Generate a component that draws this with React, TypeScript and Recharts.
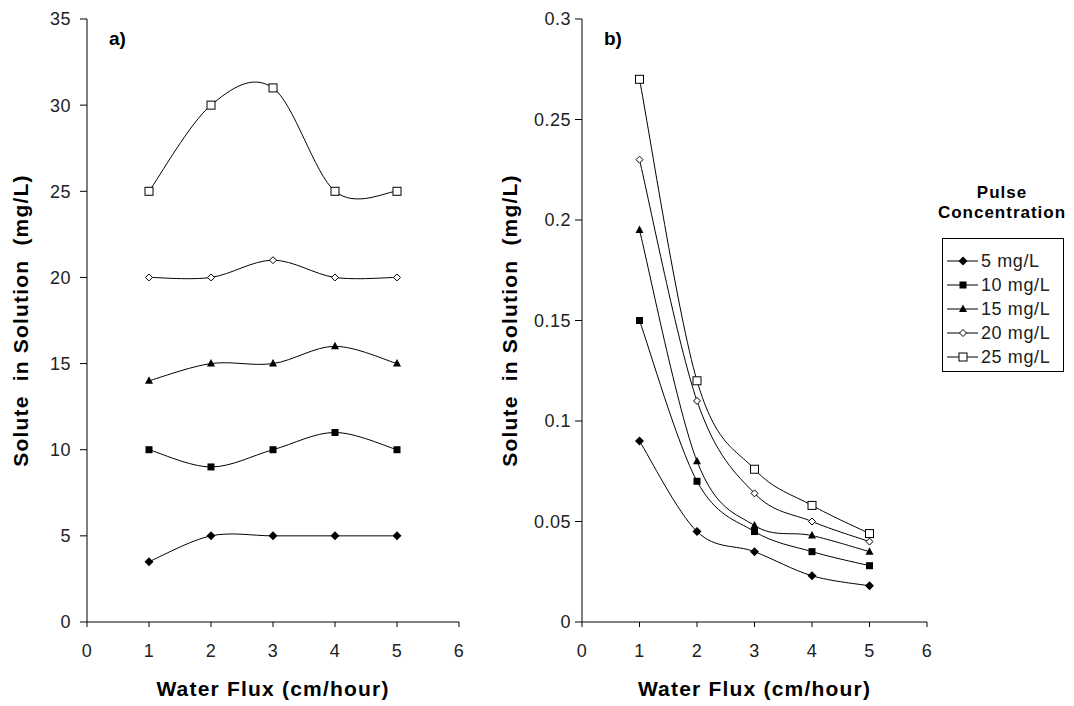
import { LineChart, Line, XAxis, YAxis } from "recharts";

// water flux (cm/hour) shared by both panels
const waterFlux = [1, 2, 3, 4, 5];
const xTicks = [0, 1, 2, 3, 4, 5, 6];
const leftTicks = [0, 5, 10, 15, 20, 25, 30, 35];
const rightTicks = [0, 0.05, 0.1, 0.15, 0.2, 0.25, 0.3];
const pulseLabels = ["5 mg/L", "10 mg/L", "15 mg/L", "20 mg/L", "25 mg/L"];

// panel a)
const leftP5 = [3.5, 5, 5, 5, 5];
const leftP10 = [10, 9, 10, 11, 10];
const leftP15 = [14, 15, 15, 16, 15];
const leftP20 = [20, 20, 21, 20, 20];
const leftP25 = [25, 30, 31, 25, 25];

// panel b)
const rightP5 = [0.09, 0.045, 0.035, 0.023, 0.018];
const rightP10 = [0.15, 0.07, 0.045, 0.035, 0.028];
const rightP15 = [0.195, 0.08, 0.048, 0.043, 0.035];
const rightP20 = [0.23, 0.11, 0.064, 0.05, 0.04];
const rightP25 = [0.27, 0.12, 0.076, 0.058, 0.044];

type MarkerKind = "diamond" | "square" | "triangle" | "openDiamond" | "openSquare";
const markerKinds: MarkerKind[] = ["diamond", "square", "triangle", "openDiamond", "openSquare"];

const toPoints = (vals: number[]) => waterFlux.map((x, i) => ({ x, y: vals[i] }));

// Excel style smoothing (Catmull-Rom, 1/6 tangents)
const excelSmooth = (context: any) => {
  let pts: number[][] = [];
  return {
    areaStart() {},
    areaEnd() {},
    lineStart() {
      pts = [];
    },
    point(x: number, y: number) {
      pts.push([+x, +y]);
    },
    lineEnd() {
      if (!pts.length) return;
      context.moveTo(pts[0][0], pts[0][1]);
      for (let i = 0; i < pts.length - 1; i++) {
        const p0 = pts[Math.max(i - 1, 0)];
        const p1 = pts[i];
        const p2 = pts[i + 1];
        const p3 = pts[Math.min(i + 2, pts.length - 1)];
        context.bezierCurveTo(
          p1[0] + (p2[0] - p0[0]) / 6,
          p1[1] + (p2[1] - p0[1]) / 6,
          p2[0] - (p3[0] - p1[0]) / 6,
          p2[1] - (p3[1] - p1[1]) / 6,
          p2[0],
          p2[1]
        );
      }
    },
  };
};

function Marker({ cx, cy, kind }: { cx: number; cy: number; kind: MarkerKind }) {
  if (cx == null || cy == null) return null;
  switch (kind) {
    case "diamond":
      return <path d={`M${cx},${cy - 4.5}L${cx + 4.5},${cy}L${cx},${cy + 4.5}L${cx - 4.5},${cy}Z`} fill="#000" />;
    case "square":
      return <rect x={cx - 3.5} y={cy - 3.5} width={7} height={7} fill="#000" />;
    case "triangle":
      return <path d={`M${cx},${cy - 4.5}L${cx + 4},${cy + 3}L${cx - 4},${cy + 3}Z`} fill="#000" />;
    case "openDiamond":
      return (
        <path
          d={`M${cx},${cy - 3.5}L${cx + 3.5},${cy}L${cx},${cy + 3.5}L${cx - 3.5},${cy}Z`}
          fill="#fff"
          stroke="#000"
          strokeWidth={1}
        />
      );
    default:
      return <rect x={cx - 4} y={cy - 4} width={8} height={8} fill="#fff" stroke="#000" strokeWidth={1} />;
  }
}

const FONT = "Liberation Sans, Arial, sans-serif";
const tickStyle = { fontSize: 18, fill: "#222", fontFamily: FONT, letterSpacing: 0.5 };
const titleStyle = {
  fontSize: 21,
  fontWeight: "bold",
  fill: "#000",
  fontFamily: FONT,
  letterSpacing: 1.2,
};

interface PanelProps {
  series: number[][];
  yTicks: number[];
  yMax: number;
  width: number;
  yAxisWidth: number;
  titleOffset: number;
  tickMargin: number;
  tag: string;
}

function Panel({ series, yTicks, yMax, width, yAxisWidth, titleOffset, tickMargin, tag }: PanelProps) {
  return (
    <LineChart width={width} height={706} margin={{ top: 19, right: 8, left: 0, bottom: 0 }}>
      <XAxis
        dataKey="x"
        type="number"
        domain={[0, 6]}
        ticks={xTicks}
        height={84}
        tickSize={5}
        tickMargin={17}
        tick={tickStyle}
        stroke="#000"
        tickLine={{ stroke: "#000" }}
        label={{
          value: "Water Flux (cm/hour)",
          position: "insideBottom",
          offset: 10,
          style: titleStyle,
        }}
      />
      <XAxis xAxisId="top" orientation="top" type="number" domain={[0, 6]} height={0} tick={false} tickLine={false} stroke="#888" />
      <YAxis
        type="number"
        domain={[0, yMax]}
        ticks={yTicks}
        width={yAxisWidth}
        tickSize={7}
        tickMargin={tickMargin}
        tick={tickStyle}
        stroke="#000"
        tickLine={{ stroke: "#000" }}
        label={{
          value: "Solute\u00a0 in Solution\u00a0 (mg/L)",
          angle: -90,
          position: "insideLeft",
          offset: titleOffset,
          style: { ...titleStyle, textAnchor: "middle" },
        }}
      />
      <YAxis yAxisId="right" orientation="right" type="number" domain={[0, yMax]} width={0} tick={false} tickLine={false} stroke="#888" />
      {series.map((vals, i) => (
        <Line
          key={pulseLabels[i]}
          name={pulseLabels[i]}
          data={toPoints(vals)}
          dataKey="y"
          type={excelSmooth as any}
          stroke="#000"
          strokeWidth={1}
          isAnimationActive={false}
          dot={(p: any) => <Marker key={`${i}-${p.index}`} cx={p.cx} cy={p.cy} kind={markerKinds[i]} />}
          activeDot={false}
        />
      ))}
      <text x={yAxisWidth + 22} y={45} fontSize={19} fontWeight="bold" fontFamily={FONT}>
        {tag}
      </text>
    </LineChart>
  );
}

function LegendBox() {
  return (
    <div style={{ position: "absolute", left: 930, top: 183, width: 144, fontFamily: FONT }}>
      <div style={{ textAlign: "center", fontWeight: "bold", fontSize: 17, lineHeight: "20px", letterSpacing: 1 }}>
        Pulse
        <br />
        Concentration
      </div>
      <div style={{ marginTop: 15, marginLeft: 12, width: 120, border: "1px solid #000", padding: "10px 0 2px 0" }}>
        {pulseLabels.map((lbl, i) => (
          <div key={lbl} style={{ display: "flex", alignItems: "center", height: 24 }}>
            <svg width={38} height={24}>
              <line x1={4} y1={12} x2={35} y2={12} stroke="#000" />
              <Marker cx={20} cy={12} kind={markerKinds[i]} />
            </svg>
            <span style={{ fontSize: 18, color: "#222", letterSpacing: 0.6 }}>{lbl}</span>
          </div>
        ))}
      </div>
    </div>
  );
}

export default function App() {
  return (
    <div style={{ position: "absolute", left: 0, top: 0, width: 1074, height: 706, background: "#fff" }}>
      <div style={{ position: "absolute", left: 0, top: 0 }}>
        <Panel
          series={[leftP5, leftP10, leftP15, leftP20, leftP25]}
          yTicks={leftTicks}
          yMax={35}
          width={467}
          yAxisWidth={87}
          titleOffset={21}
          tickMargin={9}
          tag="a)"
        />
      </div>
      <div style={{ position: "absolute", left: 470, top: 0 }}>
        <Panel
          series={[rightP5, rightP10, rightP15, rightP20, rightP25]}
          yTicks={rightTicks}
          yMax={0.3}
          width={465}
          yAxisWidth={112}
          titleOffset={40}
          tickMargin={4}
          tag="b)"
        />
      </div>
      <LegendBox />
    </div>
  );
}
